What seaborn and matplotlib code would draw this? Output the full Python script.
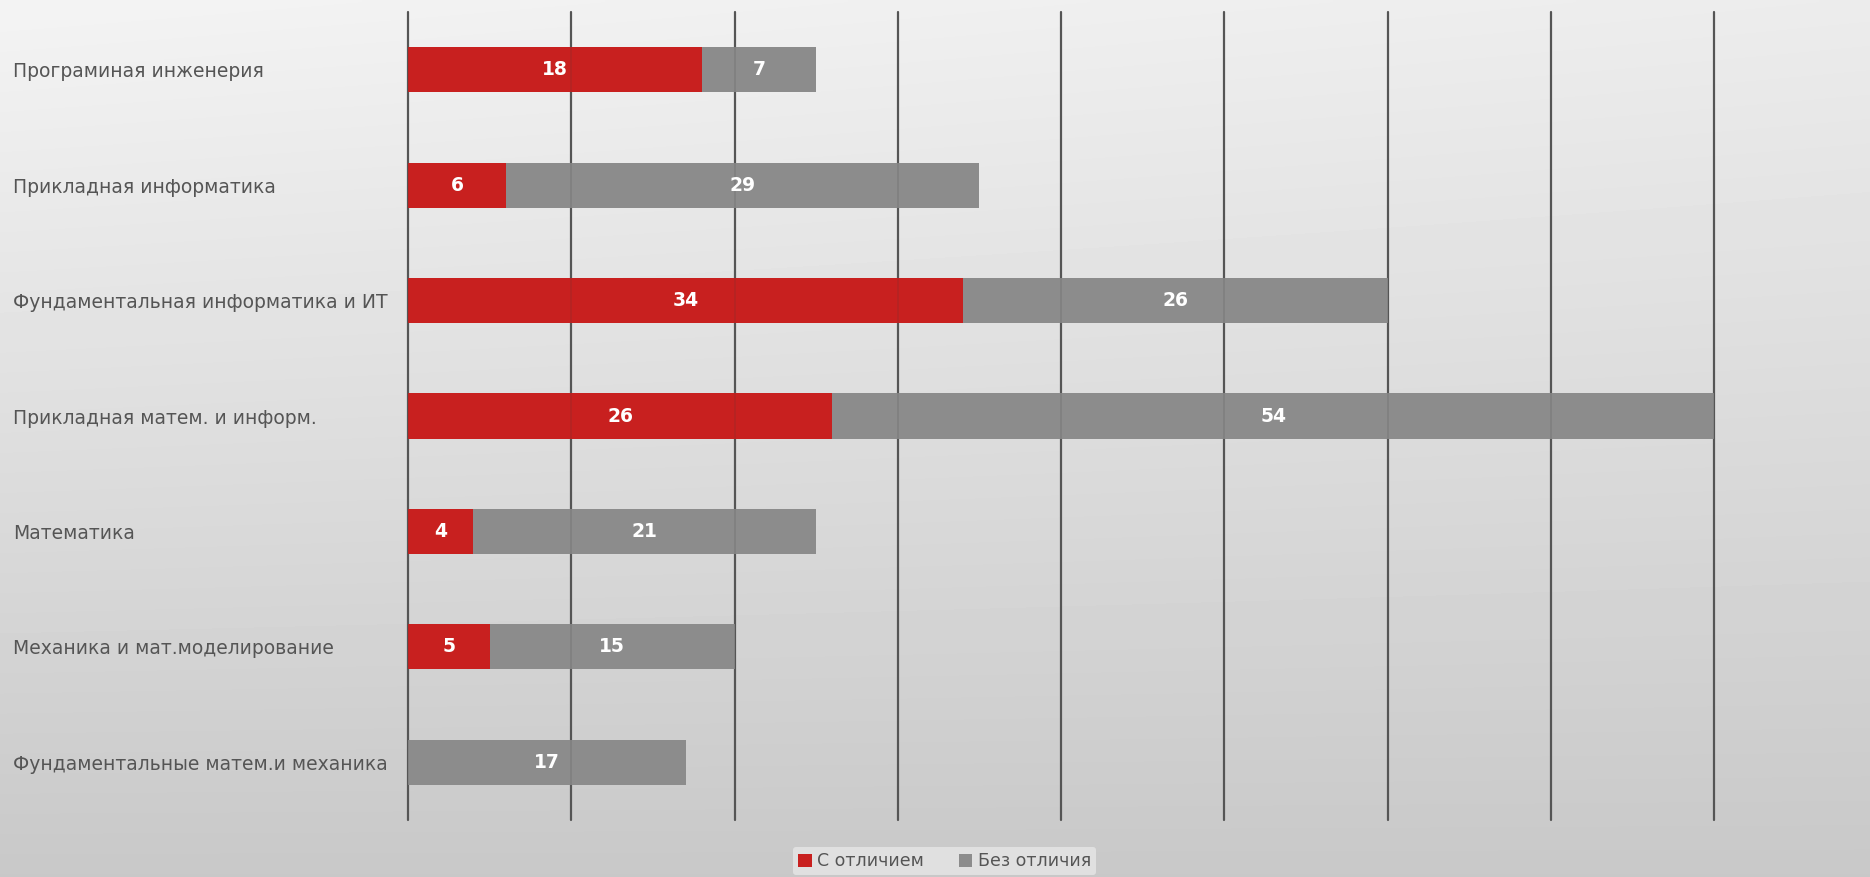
import numpy as np
import pandas as pd
import matplotlib
matplotlib.use("Agg")
import matplotlib.pyplot as plt
from matplotlib.patches import Patch
import seaborn as sns

# Data: graduates per programme, with and without honours
categories = [
    "Програминая инженерия",
    "Прикладная информатика",
    "Фундаментальная информатика и ИТ",
    "Прикладная матем. и информ.",
    "Математика",
    "Механика и мат.моделирование",
    "Фундаментальные матем.и механика",
]
with_honours = [18, 6, 34, 26, 4, 5, 0]
without_honours = [7, 29, 26, 54, 21, 15, 17]
series_names = ["С отличием", "Без отличия"]

RED = "#c8201f"
GRAY = "#8c8c8c"

df = pd.DataFrame({
    "category": categories,
    "honours": with_honours,
    "no_honours": without_honours,
})
df["total"] = df["honours"] + df["no_honours"]

sns.set_theme(style="white")
plt.rcParams["font.family"] = ["DejaVu Sans"]

W, H = 1870, 877
fig = plt.figure(figsize=(W / 100, H / 100), dpi=100)

# Soft grey gradient background
bg = fig.add_axes([0, 0, 1, 1], zorder=-10)
yy, xx = np.mgrid[0:1:200j, 0:1:400j]
shade = 0.955 - 0.17 * yy - 0.03 * xx * (1 - yy)
bg.imshow(shade, cmap="gray", vmin=0, vmax=1, aspect="auto",
          extent=[0, 1, 0, 1], origin="upper", interpolation="bilinear")
bg.set_axis_off()

left, right = 408 / W, 1714 / W
top, bottom = 1 - 12 / H, 1 - 820 / H
ax = fig.add_axes([left, bottom, right - left, top - bottom])
ax.set_facecolor("none")

sns.barplot(data=df, x="total", y="category", color=GRAY, width=0.39,
            orient="h", ax=ax, saturation=1, zorder=2, linewidth=0)
sns.barplot(data=df, x="honours", y="category", color=RED, width=0.39,
            orient="h", ax=ax, saturation=1, zorder=3, linewidth=0)

ax.set_xlim(0, 80)
ax.set_ylim(6.5, -0.5)
ax.set_xticks(np.arange(0, 81, 10))
for xv in np.arange(0, 81, 10):
    ax.axvline(xv, color="#5a5a5a", lw=1.6, zorder=1, clip_on=False)
    ax.axvline(xv, color="#3a3a3a", lw=1.2, alpha=0.15, zorder=4,
               clip_on=False)

ax.set_xticklabels([])
ax.tick_params(axis="x", length=0)
ax.set_xlabel("")
ax.set_ylabel("")
for s in ax.spines.values():
    s.set_visible(False)

ax.set_yticks(range(len(categories)))
ax.set_yticklabels(categories, ha="left", fontsize=13.5, color="#555555")
ax.tick_params(axis="y", length=0, pad=395 * 72 / 100)

# Value labels centred in each segment
lab_font = dict(color="white", fontsize=13.5, fontweight="bold",
                ha="center", va="center", zorder=5,
                family=["Liberation Sans Narrow", "DejaVu Sans"])
for i, (a, b) in enumerate(zip(with_honours, without_honours)):
    if a > 0:
        ax.text(a / 2, i, str(a), **lab_font)
    if b > 0:
        ax.text(a + b / 2, i, str(b), **lab_font)

# Legend at the bottom
handles = [Patch(facecolor=RED, edgecolor="none"),
           Patch(facecolor=GRAY, edgecolor="none")]
leg = fig.legend(handles, series_names, loc="center", ncol=2,
                 bbox_to_anchor=(0.505, 0.018), frameon=True,
                 fontsize=12.5, handlelength=0.8, handleheight=0.8,
                 handletextpad=0.3, columnspacing=2.0, borderpad=0.3)
leg.get_frame().set_facecolor("#e6e6e6")
leg.get_frame().set_edgecolor("none")
leg.get_frame().set_alpha(0.8)
for t in leg.get_texts():
    t.set_color("#555555")

fig.savefig("out.png", dpi=100)
